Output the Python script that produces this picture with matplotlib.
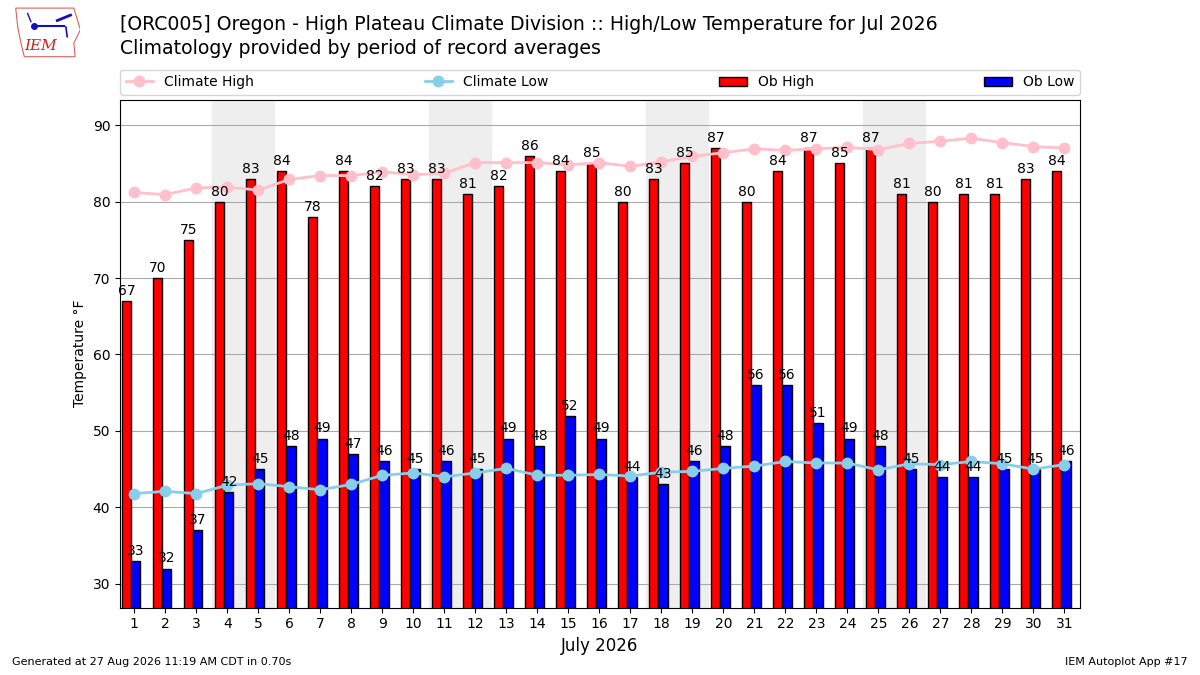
import matplotlib
matplotlib.use("Agg")
import matplotlib.pyplot as plt
from matplotlib.patches import Polygon

# du lieu doc tu hinh
days = list(range(1, 32))
ob_high = [67, 70, 75, 80, 83, 84, 78, 84, 82, 83, 83, 81, 82, 86, 84, 85,
           80, 83, 85, 87, 80, 84, 87, 85, 87, 81, 80, 81, 81, 83, 84]
ob_low = [33, 32, 37, 42, 45, 48, 49, 47, 46, 45, 46, 45, 49, 48, 52, 49,
          44, 43, 46, 48, 56, 56, 51, 49, 48, 45, 44, 44, 45, 45, 46]
climate_high = [81.2, 80.9, 81.8, 81.9, 81.5, 82.9, 83.4, 83.4, 83.9, 83.5,
                83.7, 85.1, 85.1, 85.1, 84.8, 85.1, 84.6, 85.2, 85.9, 86.4,
                86.9, 86.7, 86.9, 87.1, 86.8, 87.6, 87.9, 88.3, 87.7, 87.2, 87.0]
climate_low = [41.8, 42.1, 41.8, 42.9, 43.1, 42.7, 42.3, 43.0, 44.2, 44.5,
               44.0, 44.5, 45.1, 44.2, 44.2, 44.3, 44.1, 44.6, 44.7, 45.1,
               45.4, 46.0, 45.8, 45.8, 44.9, 45.7, 45.6, 46.0, 45.7, 45.0, 45.6]
weekends = [4, 11, 18, 25]

fig = plt.figure(figsize=(12, 6.75), dpi=100)
ax = fig.add_axes([0.1, 0.1, 0.8, 0.752])

# to nen cuoi tuan
for d in weekends:
    ax.axvspan(d - 0.5, d + 1.5, color="#eeeeee", zorder=0)

# cot nhiet do quan trac
ax.bar([d - 0.4 for d in days], ob_high, width=0.3, align="edge",
       color="r", edgecolor="k", label="Ob High", zorder=2)
ax.bar([d - 0.1 for d in days], ob_low, width=0.3, align="edge",
       color="b", edgecolor="k", label="Ob Low", zorder=2)
for d, v in zip(days, ob_high):
    ax.text(d - 0.25, v + 0.4, str(v), ha="center", va="bottom",
            fontsize=10, zorder=6)
for d, v in zip(days, ob_low):
    ax.text(d + 0.05, v + 0.4, str(v), ha="center", va="bottom",
            fontsize=10, zorder=6)

# duong khi hau
ax.plot(days, climate_high, color="pink", marker="o", ms=7.5, lw=2,
        label="Climate High", zorder=4)
ax.plot(days, climate_low, color="skyblue", marker="o", ms=7.5, lw=2,
        label="Climate Low", zorder=4)

ax.set_xlim(0.54, 31.5)
ax.set_ylim(26.9, 93.3)
ax.set_xticks(days)
ax.set_yticks(range(30, 91, 10))
ax.grid(axis="y", color="#aaaaaa", zorder=1)
ax.set_axisbelow(True)
ax.set_ylabel("Temperature °F", fontsize=10)
ax.set_xlabel("July 2026", fontsize=12)
ax.tick_params(labelsize=10)

handles, labels = ax.get_legend_handles_labels()
order = [labels.index(n) for n in ["Climate High", "Climate Low", "Ob High", "Ob Low"]]
ax.legend([handles[i] for i in order], [labels[i] for i in order],
          ncol=4, mode="expand", loc="lower left", borderaxespad=0,
          bbox_to_anchor=(0, 1.01, 1, 0.05), fontsize=10)

fig.text(0.1, 0.963, "[ORC005] Oregon - High Plateau Climate Division :: "
         "High/Low Temperature for Jul 2026", fontsize=13.6, va="center")
fig.text(0.1, 0.928, "Climatology provided by period of record averages",
         fontsize=13.6, va="center")
fig.text(0.01, 0.015, "Generated at 27 Aug 2026 11:19 AM CDT in 0.70s",
         fontsize=8)
fig.text(0.99, 0.015, "IEM Autoplot App #17", fontsize=8, ha="right")

# logo IEM don gian
lax = fig.add_axes([0.012, 0.912, 0.055, 0.08])
lax.axis("off")
lax.set_xlim(0, 1)
lax.set_ylim(0, 1)
lax.add_patch(Polygon([[0.02, 0.95], [0.9, 0.95], [0.95, 0.75], [1.0, 0.55],
                       [0.9, 0.3], [0.92, 0.05], [0.15, 0.05], [0.1, 0.3],
                       [0.05, 0.6]], closed=True, fill=False,
                      edgecolor="#e06060", lw=0.8))
lax.plot([0.3, 0.75], [0.62, 0.62], color="#1010c0", lw=1.5)
lax.plot([0.3], [0.62], "o", color="#1010c0", ms=4)
lax.plot([0.65, 0.85], [0.72, 0.82], color="#1010c0", lw=2)
lax.plot([0.2, 0.25], [0.85, 0.7], color="#1010c0", lw=1)
lax.plot([0.78, 0.8], [0.6, 0.42], color="#1010c0", lw=1.2)
lax.text(0.4, 0.25, "IEM", color="#d02020", fontsize=11, style="italic",
         family="DejaVu Serif", ha="center", va="center")

fig.savefig("out.png", dpi=100)
